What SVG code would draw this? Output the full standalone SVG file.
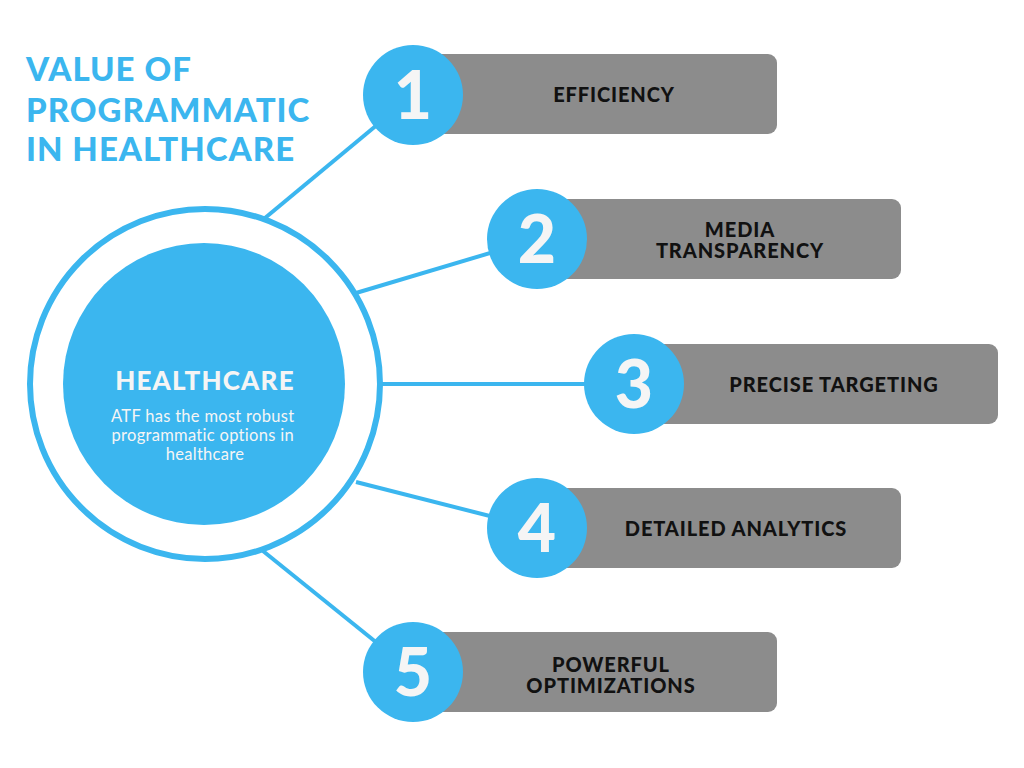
<svg xmlns="http://www.w3.org/2000/svg" width="1024" height="768" viewBox="0 0 1024 768">
<style>
.blue{fill:#3bb6ef}
.link{stroke:#3bb6ef;stroke-width:4;fill:none}
.box{fill:#8c8c8c}
.num{font-family:Lato,"Liberation Sans",sans-serif;font-weight:900;font-size:66px;fill:#f5f5f5;text-anchor:middle}
.lbl{font-family:Lato,"Liberation Sans",sans-serif;font-weight:900;font-size:20px;fill:#111;text-anchor:middle;letter-spacing:0.9px}
.title{font-family:Lato,"Liberation Sans",sans-serif;font-weight:900;font-size:33px;fill:#3bb6ef;letter-spacing:1px}
</style>
<rect width="1024" height="768" fill="#fff"/>
<g id="title">
<text class="title" x="26" y="81">VALUE OF</text>
<text class="title" x="26" y="122">PROGRAMMATIC</text>
<text class="title" x="26" y="161">IN HEALTHCARE</text>
</g>
<g id="connectors">
<line class="link" x1="265" y1="218" x2="413" y2="95"/>
<line class="link" x1="356" y1="293" x2="537" y2="239"/>
<line class="link" x1="380" y1="384" x2="633" y2="384"/>
<line class="link" x1="356" y1="482" x2="537" y2="528"/>
<line class="link" x1="263" y1="551" x2="413" y2="672"/>
</g>
<g id="hub">
<circle cx="205" cy="384" r="175" fill="none" stroke="#3bb6ef" stroke-width="6"/>
<circle class="blue" cx="204" cy="384" r="141"/>
<text x="205" y="390" font-family="Lato,'Liberation Sans',sans-serif" font-weight="900" font-size="26" fill="#f5f5f5" text-anchor="middle" letter-spacing="1.2">HEALTHCARE</text>
<text font-family="Lato,'Liberation Sans',sans-serif" font-size="16.5" fill="#f5f5f5" text-anchor="middle" letter-spacing="0.3">
<tspan x="205" y="422">ATF has the most robust</tspan>
<tspan x="205" y="441">programmatic options in</tspan>
<tspan x="205" y="460">healthcare</tspan>
</text>
</g>
<g id="item1">
<rect class="box" x="413" y="54" width="364" height="80" rx="9"/>
<circle class="blue" cx="413" cy="95" r="50"/>
<text class="num" x="413" y="119">1</text>
<text class="lbl" x="614" y="102">EFFICIENCY</text>
</g>
<g id="item2">
<rect class="box" x="537" y="199" width="364" height="80" rx="9"/>
<circle class="blue" cx="537" cy="239" r="50"/>
<text class="num" x="537" y="263">2</text>
<text class="lbl"><tspan x="740" y="237">MEDIA</tspan><tspan x="740" y="258">TRANSPARENCY</tspan></text>
</g>
<g id="item3">
<rect class="box" x="634" y="344" width="364" height="80" rx="9"/>
<circle class="blue" cx="634" cy="384" r="50"/>
<text class="num" x="634" y="408">3</text>
<text class="lbl" x="834" y="392">PRECISE TARGETING</text>
</g>
<g id="item4">
<rect class="box" x="537" y="488" width="364" height="80" rx="9"/>
<circle class="blue" cx="537" cy="528" r="50"/>
<text class="num" x="537" y="552">4</text>
<text class="lbl" x="736" y="536">DETAILED ANALYTICS</text>
</g>
<g id="item5">
<rect class="box" x="413" y="632" width="364" height="80" rx="9"/>
<circle class="blue" cx="413" cy="672" r="50"/>
<text class="num" x="413" y="696">5</text>
<text class="lbl"><tspan x="611" y="672">POWERFUL</tspan><tspan x="611" y="693">OPTIMIZATIONS</tspan></text>
</g>
</svg>
